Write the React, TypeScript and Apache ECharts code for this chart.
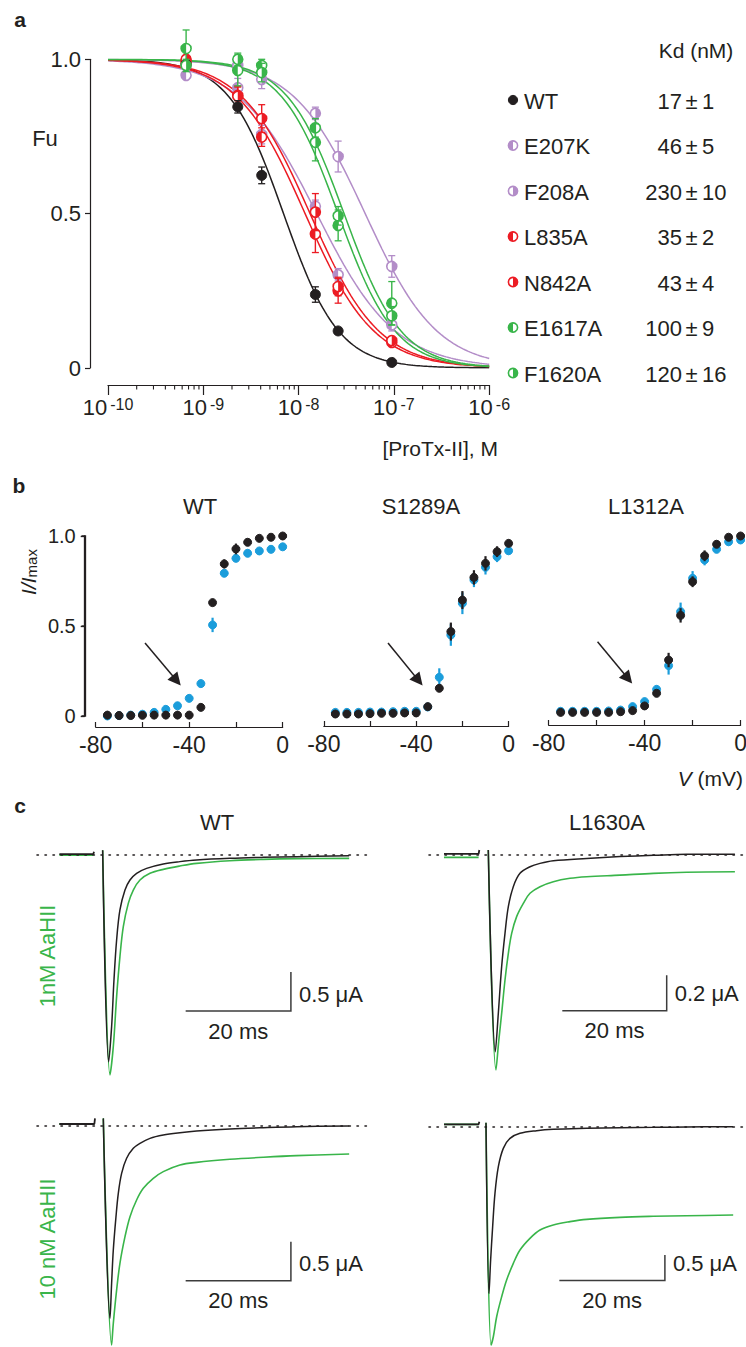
import { useEffect, useRef } from "react";
import * as echarts from "echarts";

const FONT = '"Liberation Sans", Arial, Helvetica, sans-serif';
const INK = "#231f20";
const PURPLE = "#b38dc8";
const RED = "#ec1c24";
const GREEN = "#39b54a";
const BLUE = "#1b9ddb";

// ---------------- panel a : ProTx-II inhibition ----------------
const concNM = [0.66, 2.3, 4.1, 15, 26, 95];
const mutantNames = ["WT", "E207K", "F208A", "L835A", "N842A", "E1617A", "F1620A"];
const mutantColors = [INK, PURPLE, PURPLE, RED, RED, GREEN, GREEN];
const markerFill = ["full", "left", "right", "left", "right", "left", "right"];
const kdMean = [17, 46, 230, 35, 43, 100, 120];
const kdSem = [1, 5, 10, 2, 4, 9, 16];
const fuWT = [0.984, 0.846, 0.624, 0.238, 0.12, 0.018];
const fuWTErr = [0.01, 0.02, 0.027, 0.025, 0.01, 0.008];
const fuE207K = [0.948, 0.908, 0.756, 0.524, 0.302, 0.14];
const fuE207KErr = [0.01, 0.03, 0.03, 0.02, 0.02, 0.02];
const fuF208A = [0.98, 0.98, 0.935, 0.825, 0.685, 0.329];
const fuF208AErr = [0.01, 0.02, 0.03, 0.02, 0.05, 0.035];
const fuL835A = [0.99, 0.883, 0.748, 0.434, 0.25, 0.083];
const fuL835AErr = [0.01, 0.03, 0.03, 0.06, 0.04, 0.01];
const fuN842A = [1.0, 0.88, 0.808, 0.505, 0.264, 0.089];
const fuN842AErr = [0.01, 0.03, 0.045, 0.06, 0.03, 0.01];
const fuE1617A = [1.035, 0.964, 0.98, 0.778, 0.462, 0.21];
const fuE1617AErr = [0.06, 0.05, 0.02, 0.03, 0.05, 0.07];
const fuF1620A = [0.98, 1.0, 0.957, 0.731, 0.493, 0.169];
const fuF1620AErr = [0.02, 0.02, 0.03, 0.06, 0.03, 0.03];
const fitIC50nM = [6.95, 15.5, 50, 11.7, 13.2, 26, 30];
const fitHill = [1.5, 1.05, 1.15, 1.2, 1.2, 1.45, 1.45];
const concTickExp = [-10, -9, -8, -7, -6];

const fuByMutant = [fuWT, fuE207K, fuF208A, fuL835A, fuN842A, fuE1617A, fuF1620A];
const errByMutant = [fuWTErr, fuE207KErr, fuF208AErr, fuL835AErr, fuN842AErr, fuE1617AErr, fuF1620AErr];

// ---------------- panel b : activation curves ----------------
const vSteps = [-75, -70, -65, -60, -55, -50, -45, -40, -35, -30, -25, -20, -15, -10, -5, 0];
const bTitles = ["WT", "S1289A", "L1312A"];
const wtCtrl = [0.005, 0.003, 0.003, 0.004, 0.005, 0.005, 0.005, 0.005, 0.048, 0.63, 0.845, 0.928, 0.965, 0.987, 0.993, 1.0];
const wtCtrlErr = [0, 0, 0, 0, 0, 0, 0, 0, 0.01, 0.015, 0.025, 0.03, 0.02, 0.01, 0.01, 0.01];
const wtTox = [0, 0.002, 0.005, 0.01, 0.02, 0.037, 0.057, 0.098, 0.18, 0.506, 0.793, 0.876, 0.904, 0.917, 0.926, 0.94];
const wtToxErr = [0, 0, 0, 0, 0, 0.01, 0.01, 0.01, 0.01, 0.04, 0.02, 0.02, 0.02, 0.01, 0.01, 0.01];
const sCtrl = [0.011, 0.011, 0.011, 0.013, 0.015, 0.015, 0.017, 0.017, 0.052, 0.154, 0.469, 0.644, 0.77, 0.848, 0.913, 0.959];
const sCtrlErr = [0, 0, 0, 0, 0, 0, 0, 0, 0.01, 0.02, 0.05, 0.05, 0.04, 0.04, 0.03, 0.02];
const sTox = [0.02, 0.02, 0.02, 0.022, 0.022, 0.024, 0.026, 0.026, 0.05, 0.215, 0.45, 0.626, 0.756, 0.826, 0.885, 0.918];
const sToxErr = [0, 0, 0, 0, 0, 0, 0, 0, 0.01, 0.05, 0.06, 0.06, 0.04, 0.04, 0.03, 0.02];
const lCtrl = [0.02, 0.02, 0.02, 0.02, 0.02, 0.024, 0.03, 0.056, 0.126, 0.311, 0.559, 0.746, 0.89, 0.954, 0.993, 1.0];
const lCtrlErr = [0, 0, 0, 0, 0, 0, 0, 0.01, 0.015, 0.04, 0.04, 0.03, 0.03, 0.02, 0.01, 0.01];
const lTox = [0.026, 0.026, 0.026, 0.026, 0.028, 0.033, 0.052, 0.08, 0.148, 0.28, 0.58, 0.765, 0.867, 0.926, 0.968, 0.978];
const lToxErr = [0, 0, 0, 0, 0, 0, 0.01, 0.01, 0.02, 0.05, 0.05, 0.04, 0.03, 0.02, 0.02, 0.02];
const arrowFromMV = [-58.9, -52.2, -59.6];
const arrowFromY = [0.406, 0.406, 0.413];
const arrowToMV = [-45.4, -39.0, -46.9];
const arrowToY = [0.197, 0.197, 0.208];

// ---------------- panel c : current traces (t in ms, I in µA) ----------------
const cTitles = ["WT", "L1630A"];
const cRowLabels = ["1nM AaHII", "10 nM AaHII"];
const wt1BlackPre = [[-8.35, 0.01], [-1.9, 0.01], [-1.77, 0.043]];
const wt1GreenPre = [[-8.35, 0.0], [-1.9, 0.0]];
const wt1Black = [[-0.12, 0.06], [1.02, -2.65], [1.58, -2.2], [2.03, -1.6], [2.53, -1.09], [3.16, -0.705], [4.12, -0.449], [5.07, -0.321], [6.33, -0.235], [8.23, -0.171], [11.4, -0.115], [14.56, -0.085], [17.73, -0.064], [24.06, -0.043], [30.39, -0.03], [36.72, -0.021], [46.72, -0.009]];
const wt1Green = [[-0.12, 0.06], [1.27, -2.82], [1.9, -2.457], [2.53, -1.816], [3.16, -1.303], [3.8, -0.919], [4.75, -0.62], [5.7, -0.449], [6.97, -0.321], [8.87, -0.235], [11.4, -0.184], [14.56, -0.141], [17.73, -0.107], [24.06, -0.073], [30.39, -0.056], [36.72, -0.047], [46.72, -0.043]];
const l1BlackPre = [[-8.49, 0.002], [-1.85, 0.002], [-1.72, 0.024]];
const l1GreenPre = [[-8.49, -0.017], [-1.85, -0.017]];
const l1Black = [[0, 0.024], [1.35, -1.109], [1.92, -0.894], [2.56, -0.631], [3.2, -0.444], [3.84, -0.294], [4.79, -0.182], [6.07, -0.107], [7.99, -0.07], [9.91, -0.051], [12.46, -0.036], [18.84, -0.023], [25.23, -0.013], [31.61, -0.006], [38.0, 0], [47.25, 0]];
const l1Green = [[0, 0.024], [1.47, -1.212], [2.0, -1.05], [2.56, -0.894], [3.2, -0.706], [3.84, -0.556], [4.48, -0.444], [5.43, -0.35], [6.71, -0.276], [7.99, -0.219], [9.91, -0.182], [12.46, -0.154], [15.65, -0.135], [18.84, -0.126], [25.23, -0.117], [31.61, -0.107], [38.0, -0.101], [47.25, -0.098]];
const wt10BlackPre = [[-8.35, 0.022], [-1.7, 0.022], [-1.58, 0.094]];
const wt10GreenPre = [[-8.35, 0.022], [-1.7, 0.022]];
const wt10Black = [[0, 0.094], [1.27, -2.47], [1.58, -2.021], [1.9, -1.594], [2.41, -1.166], [2.85, -0.867], [3.48, -0.611], [4.43, -0.418], [5.7, -0.29], [6.97, -0.226], [8.87, -0.162], [11.4, -0.12], [14.56, -0.09], [17.73, -0.068], [24.06, -0.042], [30.39, -0.025], [36.72, -0.012], [46.72, -0.004]];
const wt10Green = [[0, 0.094], [1.58, -2.812], [1.9, -2.534], [2.53, -2.107], [3.16, -1.765], [4.12, -1.423], [5.07, -1.166], [6.33, -0.953], [7.6, -0.803], [9.5, -0.675], [11.4, -0.589], [14.56, -0.504], [17.73, -0.47], [24.06, -0.431], [30.39, -0.405], [36.72, -0.384], [46.72, -0.363]];
const l10BlackPre = [[-7.95, 0.047], [-1.4, 0.047], [-1.26, 0.098]];
const l10GreenPre = [[-7.95, 0.047], [-1.4, 0.047]];
const l10Black = [[0, 0.079], [0.57, -3.249], [0.88, -2.599], [1.26, -1.949], [1.7, -1.299], [2.34, -0.779], [3.28, -0.422], [4.55, -0.227], [6.44, -0.129], [9.6, -0.077], [12.75, -0.051], [19.07, -0.032], [25.38, -0.019], [31.69, -0.013], [38.0, -0.006], [46.84, 0]];
const l10Green = [[0, 0.079], [0.95, -4.256], [1.39, -4.094], [2.02, -3.704], [2.97, -3.314], [3.91, -2.989], [5.18, -2.664], [6.44, -2.404], [8.33, -2.176], [10.23, -2.014], [12.75, -1.916], [15.91, -1.851], [19.07, -1.806], [25.38, -1.767], [31.69, -1.747], [38.0, -1.735], [46.84, -1.722]];
const scaleBarMs = [20, 20, 20, 20];
const scaleBarUA = [0.5, 0.2, 0.5, 0.5];
const scaleCornerMs = [35.65, 34.18, 35.65, 33.9];
const scaleCornerUA = [-2.0, -0.879, -1.987, -3.0];

// ---------------- helpers ----------------
function markerShapes(cx: number, cy: number, r: number, color: string, fill: string) {
  if (fill === "full") {
    return [{ type: "circle", shape: { cx, cy, r }, style: { fill: color, stroke: color, lineWidth: 1 } }];
  }
  const start = fill === "left" ? Math.PI / 2 : -Math.PI / 2;
  return [
    { type: "circle", shape: { cx, cy, r }, style: { fill: "#ffffff", stroke: color, lineWidth: 1.6 } },
    { type: "sector", shape: { cx, cy, r0: 0, r: r, startAngle: start, endAngle: start + Math.PI, clockwise: true }, style: { fill: color } },
  ];
}

function pointRender(color: string, fill: string, r: number, capW: number, errW: number) {
  return (_params: any, api: any) => {
    const x = api.value(0);
    const y = api.value(1);
    const e = api.value(2);
    const p = api.coord([x, y]);
    const children: any[] = [];
    if (e > 0) {
      const t = api.coord([x, y + e]);
      const b = api.coord([x, y - e]);
      children.push({ type: "line", shape: { x1: p[0], y1: t[1], x2: p[0], y2: b[1] }, style: { stroke: color, lineWidth: errW } });
      if (capW > 0) {
        children.push({ type: "line", shape: { x1: p[0] - capW, y1: t[1], x2: p[0] + capW, y2: t[1] }, style: { stroke: color, lineWidth: 1.3 } });
        children.push({ type: "line", shape: { x1: p[0] - capW, y1: b[1], x2: p[0] + capW, y2: b[1] }, style: { stroke: color, lineWidth: 1.3 } });
      }
    }
    markerShapes(p[0], p[1], r, color, fill).forEach((s) => children.push(s));
    return { type: "group", children };
  };
}

function txt(text: string, x: number, y: number, size: number, opts: any = {}) {
  return {
    type: "text",
    x,
    y,
    rotation: opts.rotation || 0,
    silent: true,
    style: {
      text,
      fill: opts.color || INK,
      fontSize: size,
      fontFamily: FONT,
      fontWeight: opts.bold ? "bold" : "normal",
      fontStyle: opts.italic ? "italic" : "normal",
      align: opts.align || "center",
      textAlign: opts.align || "center",
      verticalAlign: "middle",
      textVerticalAlign: "middle",
      rich: opts.rich,
    },
  };
}

function buildOption() {
  const grids: any[] = [];
  const xAxes: any[] = [];
  const yAxes: any[] = [];
  const series: any[] = [];
  const graphic: any[] = [];

  const axisTextBase = { color: INK, fontFamily: FONT };

  // ===== panel a =====
  grids.push({ left: 108, top: 59.3, width: 381.2, height: 308.7, outerBoundsMode: "none" });
  xAxes.push({
    gridIndex: 0, type: "value", min: -10, max: -6, interval: 1, offset: 17,
    axisLine: { show: true, onZero: false, lineStyle: { color: INK, width: 1.2 } },
    axisTick: { show: true, length: 10, inside: false, lineStyle: { color: INK, width: 1.2 } },
    splitLine: { show: false },
    axisLabel: {
      margin: 11,
      formatter: (v: number) => (concTickExp.indexOf(v) >= 0 ? `{b|10}{e|${v}}` : ""),
      rich: {
        b: { ...axisTextBase, fontSize: 22 },
        e: { ...axisTextBase, fontSize: 16, verticalAlign: "top", padding: [0, 0, 0, 3] },
      },
    },
  });
  yAxes.push({
    gridIndex: 0, type: "value", min: 0, max: 1, interval: 0.5, offset: 18,
    axisLine: { show: true, onZero: false, lineStyle: { color: INK, width: 1.2 } },
    axisTick: { show: true, length: 5, lineStyle: { color: INK, width: 1.2 } },
    splitLine: { show: false },
    axisLabel: { ...axisTextBase, fontSize: 22, margin: 9, formatter: (v: number) => (v === 1 ? "1.0" : String(v)) },
  });

  // minor log ticks
  const minorTicks: number[][] = [];
  for (let e = -10; e < -6; e++) for (let k = 2; k <= 9; k++) minorTicks.push([e + Math.log10(k)]);
  series.push({
    type: "custom", xAxisIndex: 0, yAxisIndex: 0, silent: true, clip: false, data: minorTicks,
    renderItem: (_p: any, api: any) => {
      const c = api.coord([api.value(0), 0]);
      return { type: "line", shape: { x1: c[0], y1: c[1] + 17, x2: c[0], y2: c[1] + 21.5 }, style: { stroke: INK, lineWidth: 1.1 } };
    },
  });

  // fitted curves
  mutantNames.forEach((name, i) => {
    const pts: number[][] = [];
    for (let k = 0; k <= 160; k++) {
      const lx = -10 + k * 0.025;
      const c = Math.pow(10, lx) * 1e9;
      pts.push([lx, 1 / (1 + Math.pow(c / fitIC50nM[i], fitHill[i]))]);
    }
    series.push({
      type: "line", name: name + " fit", xAxisIndex: 0, yAxisIndex: 0, data: pts, showSymbol: false, symbol: "none",
      silent: true, lineStyle: { color: mutantColors[i], width: 1.5 }, z: 2,
    });
  });
  // points (draw order purple, red, black, green)
  [1, 2, 3, 4, 0, 5, 6].forEach((i) => {
    series.push({
      type: "custom", name: mutantNames[i], xAxisIndex: 0, yAxisIndex: 0, clip: false, z: 3,
      data: concNM.map((c, j) => [Math.log10(c * 1e-9), fuByMutant[i][j], errByMutant[i][j]]),
      renderItem: pointRender(mutantColors[i], markerFill[i], 5, 3.5, 1.4),
    });
  });

  // legend + Kd table
  graphic.push(txt("a", 20, 19, 21, { bold: true }));
  graphic.push(txt("Fu", 45, 138, 22));
  graphic.push(txt("[ProTx-II], M", 498, 448, 21, { align: "right" }));
  graphic.push(txt("Kd (nM)", 696, 50, 21));
  mutantNames.forEach((name, i) => {
    const ly = 100 + i * 45.5;
    graphic.push({ type: "group", silent: true, children: markerShapes(513, ly, 4.6, mutantColors[i], markerFill[i]) });
    graphic.push(txt(name, 524, ly + 1, 22, { align: "left" }));
    graphic.push(txt(String(kdMean[i]), 682, ly + 1, 22, { align: "right" }));
    graphic.push(txt("±", 691.5, ly + 1, 22));
    graphic.push(txt(String(kdSem[i]), 702, ly + 1, 22, { align: "left" }));
  });

  // ===== panel b =====
  const bLeft = [95.7, 323.8, 548.6];
  const bWidth = [187, 184.8, 192];
  const bOffset = [11, 10, 9];
  const bTop = 536;
  const bHeight = 180;
  const bCtrl = [wtCtrl, sCtrl, lCtrl];
  const bCtrlErr = [wtCtrlErr, sCtrlErr, lCtrlErr];
  const bTox = [wtTox, sTox, lTox];
  const bToxErr = [wtToxErr, sToxErr, lToxErr];
  for (let k = 0; k < 3; k++) {
    const gi = 1 + k;
    grids.push({ left: bLeft[k], top: bTop, width: bWidth[k], height: bHeight, outerBoundsMode: "none" });
    xAxes.push({
      gridIndex: gi, type: "value", min: -80, max: 0, interval: 20, offset: bOffset[k],
      axisLine: { show: true, onZero: false, lineStyle: { color: INK, width: 1.2 } },
      axisTick: { show: true, inside: true, length: 5, lineStyle: { color: INK, width: 1.2 } },
      splitLine: { show: false },
      axisLabel: { ...axisTextBase, fontSize: 23, margin: 6, formatter: (v: number) => (v % 40 === 0 ? String(v) : "") },
    });
    yAxes.push({
      gridIndex: gi, type: "value", min: 0, max: 1, interval: 0.5, show: k === 0, offset: 11, position: "left",
      axisLine: { show: true, onZero: false, lineStyle: { color: INK, width: 1.3 } },
      axisTick: { show: true, length: 4, lineStyle: { color: INK, width: 1.3 } },
      splitLine: { show: false },
      axisLabel: { ...axisTextBase, fontSize: 20, margin: 9, formatter: (v: number) => (v === 1 ? "1.0" : String(v)) },
    });
    series.push({
      type: "custom", name: bTitles[k] + " toxin", xAxisIndex: gi, yAxisIndex: gi, clip: false, z: 3,
      data: vSteps.map((v, j) => [v, bTox[k][j], bToxErr[k][j]]),
      renderItem: pointRender(BLUE, "full", 4, 0, 2.2),
    });
    series.push({
      type: "custom", name: bTitles[k] + " control", xAxisIndex: gi, yAxisIndex: gi, clip: false, z: 4,
      data: vSteps.map((v, j) => [v, bCtrl[k][j], bCtrlErr[k][j]]),
      renderItem: pointRender(INK, "full", 4, 0, 2.2),
    });
    series.push({
      type: "line", name: bTitles[k] + " arrow", xAxisIndex: gi, yAxisIndex: gi, data: [], silent: true,
      markLine: {
        silent: true, symbol: ["none", "triangle"], symbolSize: 13, label: { show: false },
        lineStyle: { color: INK, width: 1.5, type: "solid" },
        data: [[{ coord: [arrowFromMV[k], arrowFromY[k]] }, { coord: [arrowToMV[k], arrowToY[k]] }]],
      },
    });
    graphic.push(txt(bTitles[k], [200, 421, 646][k], 506, 22));
  }
  // explicit y-axis line of the WT activation plot (same place as the axis)
  const bAxisX = Math.round(bLeft[0] - bOffset[0]) + 0.5;
  graphic.push({
    type: "polyline", silent: true, z: 100,
    shape: { points: [[bAxisX - 4, bTop], [bAxisX, bTop], [bAxisX, bTop + bHeight], [bAxisX - 4, bTop + bHeight]] },
    style: { stroke: INK, lineWidth: 1.3, fill: null },
  });
  graphic.push({
    type: "line", silent: true, z: 100,
    shape: { x1: bAxisX - 4, y1: bTop + bHeight / 2, x2: bAxisX, y2: bTop + bHeight / 2 },
    style: { stroke: INK, lineWidth: 1.3 },
  });
  graphic.push(txt("b", 19, 485, 21, { bold: true }));
  graphic.push(txt("{i|V} (mV)", 743, 778, 21, { align: "right", rich: { i: { fontStyle: "italic", fontSize: 21, fontFamily: FONT, fill: INK } } }));
  graphic.push(txt("{i|I/I}{s|max}", 28, 572, 21, {
    rotation: Math.PI / 2,
    rich: {
      i: { fontStyle: "italic", fontSize: 21, fontFamily: FONT, fill: INK, color: INK },
      s: { fontSize: 15, fontFamily: FONT, fill: INK, color: INK, verticalAlign: "bottom" },
    },
  }));

  // ===== panel c =====
  const cGrid = [
    { left: 37, top: 839.4, width: 331, height: 249.6, xmin: -12.6, xmax: 50.3, ymin: -3.0, ymax: 0.2 },
    { left: 429, top: 836.5, width: 314, height: 267, xmin: -11.36, xmax: 48.8, ymin: -1.4, ymax: 0.1 },
    { left: 37, top: 1110.1, width: 331, height: 249.6, xmin: -12.6, xmax: 50.3, ymin: -3.0, ymax: 0.2 },
    { left: 429, top: 1111.3, width: 314, height: 251.4, xmin: -10.8, xmax: 48.7, ymin: -4.6, ymax: 0.3 },
  ];
  const cTraces = [
    [wt1GreenPre, wt1BlackPre, wt1Green, wt1Black],
    [l1GreenPre, l1BlackPre, l1Green, l1Black],
    [wt10GreenPre, wt10BlackPre, wt10Green, wt10Black],
    [l10GreenPre, l10BlackPre, l10Green, l10Black],
  ];
  cGrid.forEach((g, k) => {
    const gi = 4 + k;
    grids.push({ left: g.left, top: g.top, width: g.width, height: g.height, outerBoundsMode: "none" });
    xAxes.push({ gridIndex: gi, type: "value", min: g.xmin, max: g.xmax, show: false, axisLine: { onZero: false } });
    yAxes.push({ gridIndex: gi, type: "value", min: g.ymin, max: g.ymax, show: false, axisLine: { onZero: false } });
    const [gp, bp, gt, bt] = cTraces[k];
    const lineCommon = { xAxisIndex: gi, yAxisIndex: gi, showSymbol: false, symbol: "none", silent: true, clip: false };
    series.push({ type: "line", ...lineCommon, data: gp, lineStyle: { color: GREEN, width: 1.8 }, z: 2 });
    series.push({ type: "line", ...lineCommon, data: bp, lineStyle: { color: INK, width: 1.8 }, z: 3 });
    series.push({ type: "line", ...lineCommon, data: gt, smooth: 0.35, lineStyle: { color: GREEN, width: 1.6 }, z: 2 });
    series.push({
      type: "line", ...lineCommon, data: bt, smooth: 0.35, lineStyle: { color: INK, width: 1.5 }, z: 3,
      markLine: {
        silent: true, symbol: "none", label: { show: false },
        lineStyle: { color: INK, width: 1.6, type: [1.4, 6.6], cap: "round" },
        data: [{ yAxis: 0 }],
      },
    });
    series.push({
      type: "custom", xAxisIndex: gi, yAxisIndex: gi, silent: true, clip: false, z: 4,
      data: [[scaleCornerMs[k], scaleCornerUA[k], scaleBarMs[k], scaleBarUA[k]]],
      renderItem: (_p: any, api: any) => {
        const t = api.value(0), i = api.value(1), lt = api.value(2), li = api.value(3);
        const c = api.coord([t, i]);
        const l = api.coord([t - lt, i]);
        const u = api.coord([t, i + li]);
        return {
          type: "group",
          children: [
            { type: "polyline", shape: { points: [[l[0], l[1]], [c[0], c[1]], [u[0], u[1]]] }, style: { stroke: "#3c3c3c", lineWidth: 1.5, fill: null } },
            { type: "text", x: (l[0] + c[0]) / 2, y: c[1] + 20, style: { text: `${lt} ms`, fill: INK, fontSize: 22, fontFamily: FONT, align: "center", verticalAlign: "middle", textAlign: "center", textVerticalAlign: "middle" } },
            { type: "text", x: c[0] + 8, y: c[1] - 17, style: { text: `${li} μA`, fill: INK, fontSize: 22, fontFamily: FONT, align: "left", verticalAlign: "middle", textAlign: "left", textVerticalAlign: "middle" } },
          ],
        };
      },
    });
  });
  graphic.push(txt("c", 20, 805, 21, { bold: true }));
  graphic.push(txt(cTitles[0], 217, 822, 22));
  graphic.push(txt(cTitles[1], 607, 822, 22));
  graphic.push(txt(cRowLabels[0], 47, 956, 22, { rotation: Math.PI / 2, color: GREEN }));
  graphic.push(txt(cRowLabels[1], 47, 1239, 22, { rotation: Math.PI / 2, color: GREEN }));

  return {
    animation: false,
    backgroundColor: "#ffffff",
    textStyle: { fontFamily: FONT },
    grid: grids,
    xAxis: xAxes,
    yAxis: yAxes,
    series,
    graphic: { elements: graphic },
  };
}

export default function App() {
  const ref = useRef<HTMLDivElement>(null);
  useEffect(() => {
    if (!ref.current) return;
    const chart = echarts.init(ref.current, null, { renderer: "svg" });
    chart.setOption(buildOption() as any);
    return () => chart.dispose();
  }, []);
  return (
    <div
      ref={ref}
      style={{ position: "absolute", left: 0, top: 0, width: 746, height: 1347, background: "#ffffff" }}
    />
  );
}
